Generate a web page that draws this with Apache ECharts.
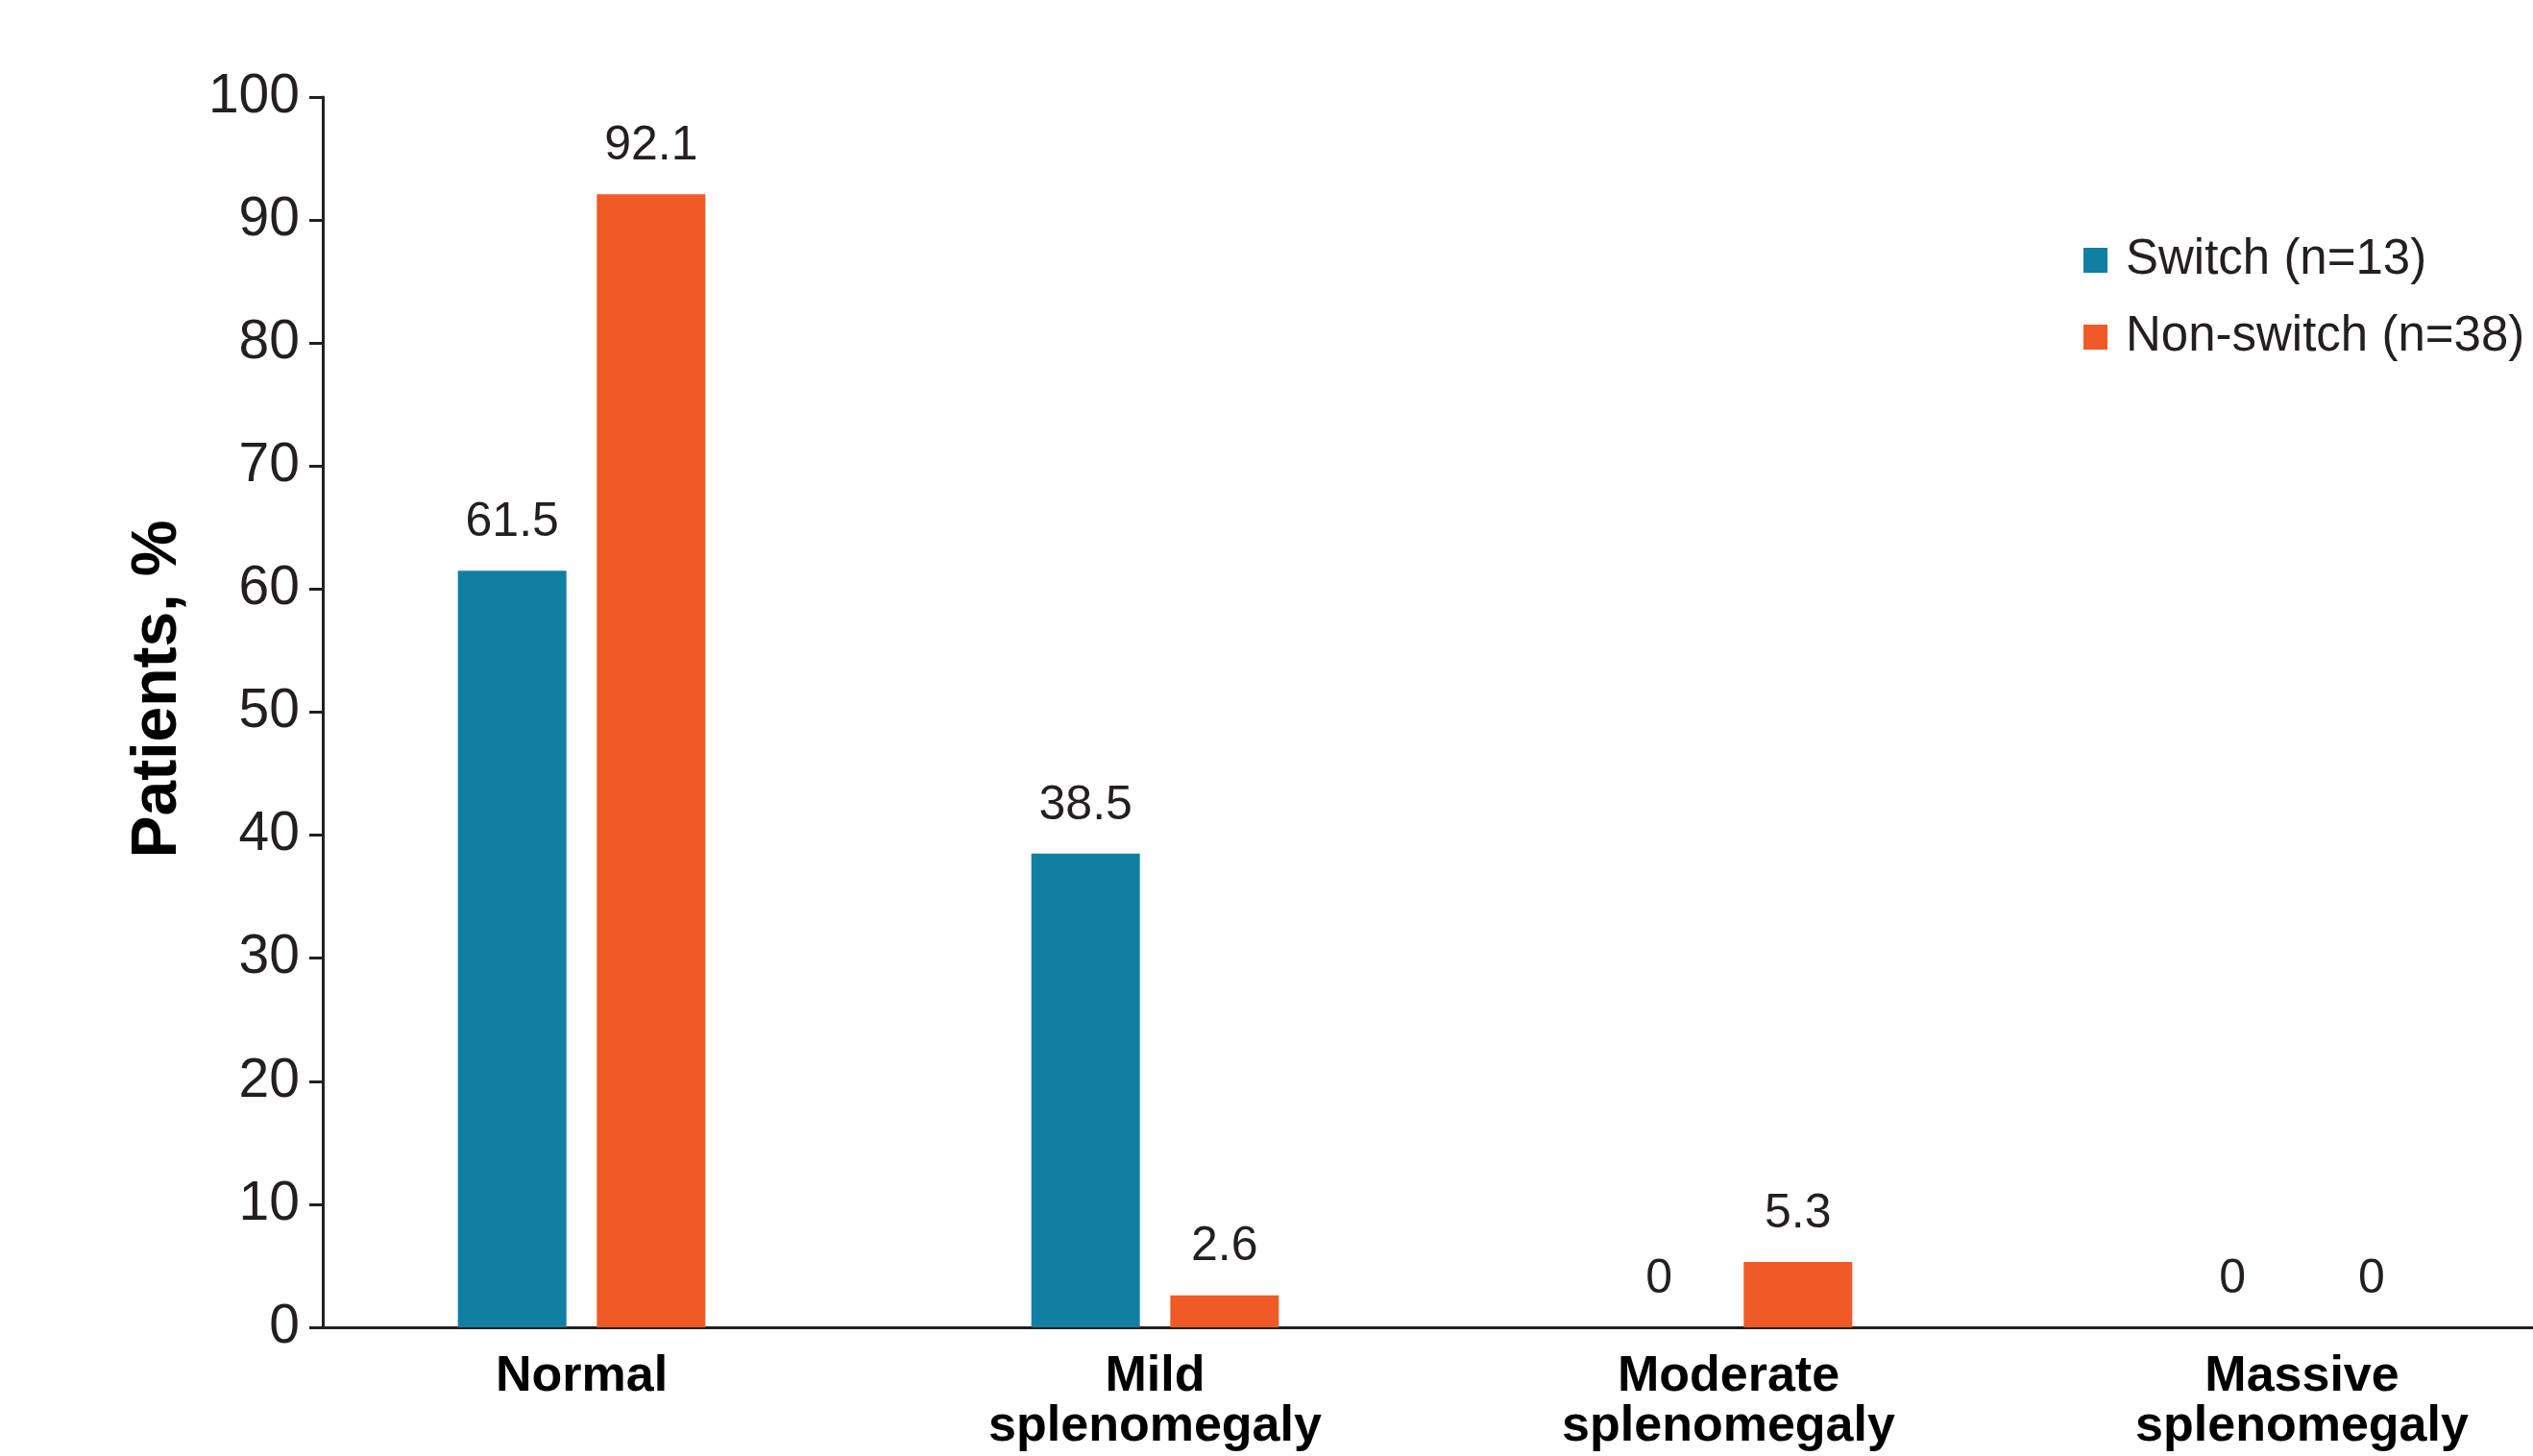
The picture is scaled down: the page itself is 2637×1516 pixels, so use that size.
<!DOCTYPE html>
<html>
<head>
<meta charset="utf-8">
<script src="https://cdn.jsdelivr.net/npm/echarts@6/dist/echarts.min.js"></script>
<style>
html,body{margin:0;padding:0;background:#fff;overflow:hidden;}
#chart{width:2760px;height:1516px;}
</style>
</head>
<body>
<div id="chart"></div>
<script>
const categories = ['Normal', 'Mild\nsplenomegaly', 'Moderate\nsplenomegaly', 'Massive\nsplenomegaly'];
const seriesNames = ['Switch (n=13)', 'Non-switch (n=38)'];
const switchValues = [61.5, 38.5, 0, 0];
const nonSwitchValues = [92.1, 2.6, 5.3, 0];
const yMin = 0, yMax = 100, yInterval = 10;
const yAxisTitle = 'Patients, %';

const FONT = 'Liberation Sans, Arial, Helvetica, sans-serif';
const TEXT = '#231f20';
const TEAL = '#117fa2';
const ORANGE = '#f05a27';

const chart = echarts.init(document.getElementById('chart'), null, {renderer: 'canvas'});

const labelOpt = {
  show: true, position: 'top', distance: 25,
  fontFamily: FONT, fontSize: 50, color: TEXT,
  formatter: p => String(p.value)
};

chart.setOption({
  animation: false,
  backgroundColor: '#fff',
  textStyle: {fontFamily: FONT},
  grid: [
    {left: 307, width: 2388, top: 101, bottom: 134, containLabel: false},
    {left: 336, right: 0, top: 101, bottom: 134, containLabel: false}
  ],
  legend: {
    orient: 'vertical', left: 2164, top: 240,
    itemWidth: 25, itemHeight: 26, itemGap: 28,
    icon: 'rect',
    textStyle: {fontFamily: FONT, fontSize: 51, color: TEXT, lineHeight: 52, padding: [0, 0, 0, 14]},
    data: seriesNames
  },
  xAxis: [
    {
      gridIndex: 0, type: 'category', data: categories,
      axisLine: {show: false}, axisTick: {show: false},
      axisLabel: {
        interval: 0, margin: 26,
        fontFamily: FONT, fontSize: 52, fontWeight: 'bold', color: '#000', lineHeight: 52
      }
    },
    {
      gridIndex: 1, type: 'value', min: 0, max: 1,
      axisLine: {show: true, lineStyle: {color: TEXT, width: 3}},
      axisTick: {show: false}, axisLabel: {show: false}, splitLine: {show: false}
    }
  ],
  yAxis: [
    {
      gridIndex: 0, type: 'value', min: yMin, max: yMax, interval: yInterval,
      show: false
    },
    {
      gridIndex: 1, type: 'value', min: yMin, max: yMax, interval: yInterval,
      name: yAxisTitle, nameLocation: 'middle', nameGap: 138,
      nameTextStyle: {fontFamily: FONT, fontSize: 66, fontWeight: 'bold', color: '#000', padding: [0, 0, 0, 48]},
      axisLine: {show: true, lineStyle: {color: TEXT, width: 3}},
      axisTick: {show: true, inside: false, length: 14, lineStyle: {color: TEXT, width: 3}},
      axisLabel: {margin: 24, fontFamily: FONT, fontSize: 57, color: TEXT},
      splitLine: {show: false}
    }
  ],
  series: [
    {
      name: seriesNames[0], type: 'bar', xAxisIndex: 0, yAxisIndex: 0,
      data: switchValues, barWidth: 113, barGap: '28%',
      itemStyle: {color: TEAL}, label: labelOpt
    },
    {
      name: seriesNames[1], type: 'bar', xAxisIndex: 0, yAxisIndex: 0,
      data: nonSwitchValues, barWidth: 113, barGap: '28%',
      itemStyle: {color: ORANGE}, label: labelOpt
    }
  ]
});
</script>
</body>
</html>
